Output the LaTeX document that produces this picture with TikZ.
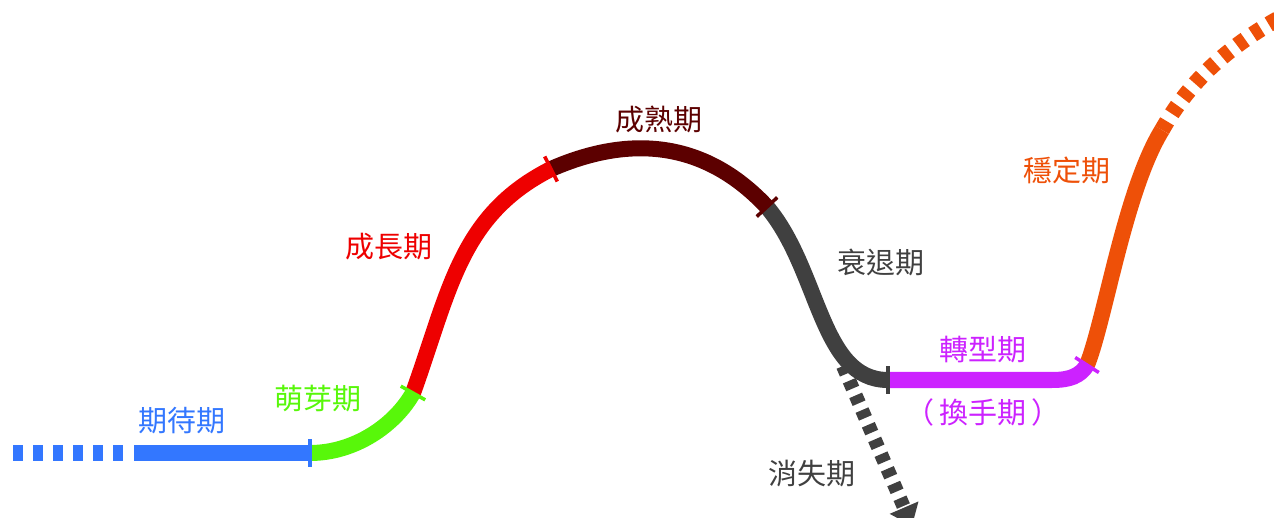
\documentclass[tikz,border=0pt]{standalone}
\usepackage{fontspec}
\newfontfamily\cjk{Noto Sans CJK TC}
\usetikzlibrary{arrows.meta}
\definecolor{cBlue}{HTML}{3377FF}
\definecolor{cGreen}{HTML}{58F70A}
\definecolor{cRed}{HTML}{EE0000}
\definecolor{cMaroon}{HTML}{5C0000}
\definecolor{cGray}{HTML}{404040}
\definecolor{cPurple}{HTML}{CC22FF}
\definecolor{cOrange}{HTML}{EE5008}
\begin{document}
\begin{tikzpicture}[x=1pt,y=-1pt,
  seg/.style={line width=16pt},
  tickmark/.style={rectangle, inner sep=0pt, minimum width=3.5pt, minimum height=28pt, sloped, allow upside down},
  lbl/.style={font=\cjk\fontsize{29}{31}\selectfont, inner sep=0pt}]
\useasboundingbox (0,0) rectangle (1274,518);
\clip (0,0) rectangle (1274,518);
% junction points
\coordinate (l0) at (13,453);
\coordinate (l1) at (123,453);
\coordinate (p0) at (134,453);
\coordinate (p1) at (310,453);
\coordinate (p2) at (413,393);
\coordinate (p3) at (551,169);
\coordinate (p4) at (767,207);
\coordinate (p5) at (888,380);
\coordinate (p5b) at (1052,380);
\coordinate (p6) at (1087,365);
\coordinate (p7) at (1162,130);
\coordinate (p8) at (1285,15);
\coordinate (d0) at (843,366);
\coordinate (d1) at (912,526);
% vanishing arrow
\draw[line width=14pt, cGray, dash pattern=on 8.5pt off 7.5pt, -{Triangle[width=30pt,length=20pt]}] (d0) -- (d1);
% segments
\draw[seg, cBlue, dash pattern=on 10pt off 10pt] (l0) -- (l1);
\draw[seg, cBlue] (p0) -- (p1);
\draw[seg, cGreen] (p1) .. controls (355,453) and (395,425) .. (p2);
\draw[seg, cRed] (p2) .. controls (450,290) and (460,215) .. (p3);
\draw[seg, cMaroon] (p3) .. controls (640,130) and (712,148) .. (p4);
\draw[seg, cGray] (p4) .. controls (820,270) and (820,380) .. (p5);
\draw[seg, cPurple] (p5) -- (p5b) .. controls (1070,380) and (1080,376) .. (p6);
\draw[seg, cOrange] (p6) .. controls (1105,320) and (1125,190) .. (p7);
\draw[seg, cOrange, dash pattern=on 10pt off 9pt] (p7) .. controls (1190,80) and (1230,45) .. (p8);
% ticks
\path (p0) -- (p1) node[tickmark, fill=cBlue, pos=1] (k1) {};
\path (p1) .. controls (355,453) and (395,425) .. (p2) node[tickmark, fill=cGreen, pos=1] (k2) {};
\path (p2) .. controls (450,290) and (460,215) .. (p3) node[tickmark, fill=cRed, pos=1] (k3) {};
\path (p3) .. controls (640,130) and (712,148) .. (p4) node[tickmark, fill=cMaroon, pos=1] (k4) {};
\path (p4) .. controls (820,270) and (820,380) .. (p5) node[tickmark, fill=cGray, pos=1] (k5) {};
\path (p5b) .. controls (1070,380) and (1080,376) .. (p6) node[tickmark, fill=cPurple, pos=1] (k6) {};
% labels
\node[lbl, text=cBlue] (n1) at (182,421) {期待期};
\node[lbl, text=cGreen] (n2) at (318,399) {萌芽期};
\node[lbl, text=cRed] (n3) at (389,247) {成長期};
\node[lbl, text=cMaroon] (n4) at (659,120) {成熟期};
\node[lbl, text=cGray] (n5) at (881,262) {衰退期};
\node[lbl, text=cPurple] (n6) at (983,350) {轉型期};
\node[lbl, text=cPurple] (n7) at (983,412) {（\hspace{5pt}換手期\hspace{5pt}）};
\node[lbl, text=cGray] (n8) at (812,474) {消失期};
\node[lbl, text=cOrange] (n9) at (1067,170) {穩定期};
\end{tikzpicture}
\end{document}
